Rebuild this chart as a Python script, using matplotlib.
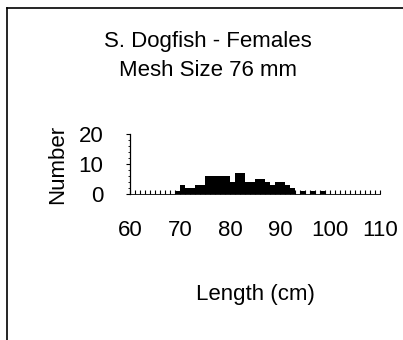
import matplotlib.pyplot as plt
from matplotlib.lines import Line2D
from matplotlib.ticker import MultipleLocator

plt.rcParams['font.family'] = ['Liberation Sans', 'DejaVu Sans']

# Length classes (1 cm bins) and number of females caught
lengths = list(range(60, 110))
counts = [0, 0, 0, 0, 0, 0, 0, 0, 0, 1,   # 60-69
          3, 2, 2, 3, 3, 6, 6, 6, 6, 6,   # 70-79
          4, 7, 7, 4, 4, 5, 5, 4, 3, 4,   # 80-89
          4, 3, 2, 0, 1, 0, 1, 0, 1, 0,   # 90-99
          0, 0, 0, 0, 0, 0, 0, 0, 0, 0]   # 100-109

x_ticks = [60, 70, 80, 90, 100, 110]
y_ticks = [0, 10, 20]

fig = plt.figure(figsize=(4.03, 3.40), dpi=100)
ax = fig.add_axes([130 / 403, 1 - 194 / 340, 250 / 403, 60 / 340])

ax.bar(lengths, counts, width=1.0, align='edge', color='black', edgecolor='none')

ax.set_xlim(60, 110)
ax.set_ylim(0, 20)
ax.set_xticks(x_ticks)
ax.set_yticks(y_ticks)
ax.xaxis.set_minor_locator(MultipleLocator(1))
ax.yaxis.set_minor_locator(MultipleLocator(2))

ax.tick_params(axis='x', which='major', direction='in', length=3, width=0.8,
               labelsize=16, pad=18.5)
ax.tick_params(axis='x', which='minor', direction='in', length=3, width=0.8)
ax.tick_params(axis='y', which='major', direction='out', length=3, width=0.8,
               labelsize=16, pad=16)
ax.tick_params(axis='y', which='minor', direction='out', length=1.5, width=0.6)

for side in ('top', 'right'):
    ax.spines[side].set_visible(False)
ax.spines['left'].set_linewidth(0.9)
ax.spines['bottom'].set_linewidth(0.6)

ax.set_ylabel('Number', fontsize=16, labelpad=7.5)
ax.set_xlabel('Length (cm)', fontsize=16, labelpad=31.5)

fig.text(208 / 403, 1 - 42 / 340, 'S. Dogfish - Females', ha='center', va='center',
         fontsize=16)
fig.text(208 / 403, 1 - 70 / 340, 'Mesh Size 76 mm', ha='center', va='center',
         fontsize=16)

# panel frame: left and top edges
fig.add_artist(Line2D([7 / 403, 7 / 403], [0, 1 - 7.5 / 340], color='black', lw=1.2))
fig.add_artist(Line2D([7 / 403, 1], [1 - 7.5 / 340, 1 - 7.5 / 340], color='black', lw=1.2))

fig.savefig('out.png', dpi=100)
